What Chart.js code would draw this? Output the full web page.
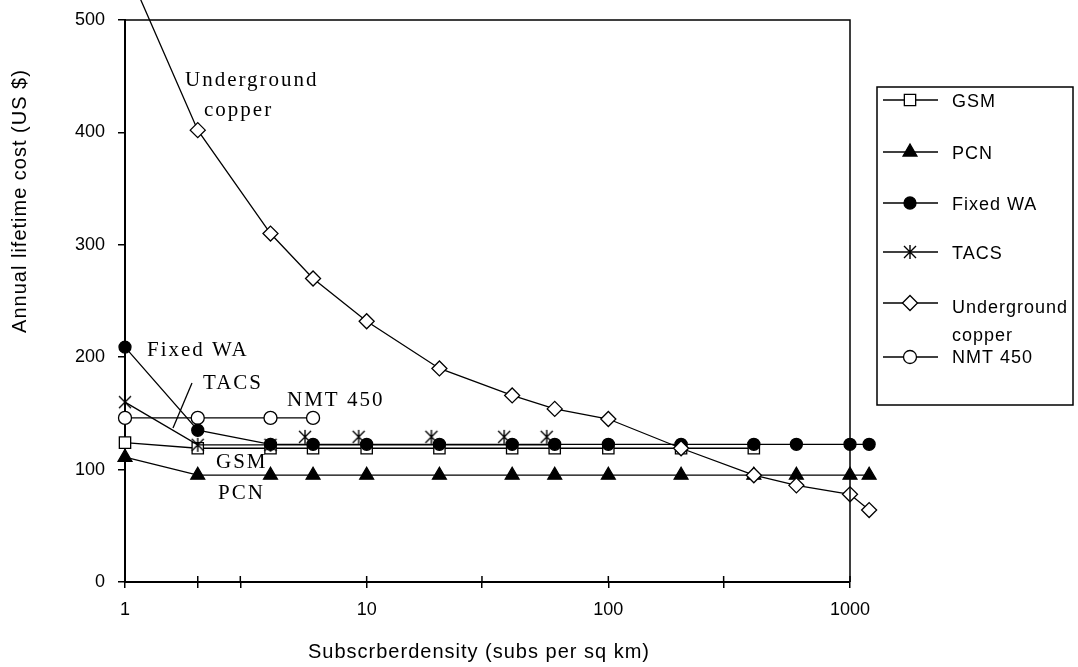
<!DOCTYPE html>
<html>
<head>
<meta charset="utf-8">
<title>Annual lifetime cost vs subscriber density</title>
<script src="https://cdn.jsdelivr.net/npm/chart.js@4.4.0/dist/chart.umd.min.js"></script>
<style>
  html, body { margin: 0; padding: 0; background: #fff; }
  #chart { display: block; }
</style>
</head>
<body>
<canvas id="chart" width="1078" height="667"></canvas>
<script>
// Subscriber density (subs per sq km) and costs
const density = [1, 2, 4, 6, 10, 20, 40, 60, 100, 200, 400, 600, 1000, 1200];
const gsmCost = [124, 119, 119, 119, 119, 119, 119, 119, 119, 119, 119];
const pcnCost = [111, 95, 95, 95, 95, 95, 95, 95, 95, 95, 95, 95, 95, 95];
const fixedWaCost = [209, 135, 122.5, 122.5, 122.5, 122.5, 122.5, 122.5, 122.5, 122.5, 122.5, 122.5, 122.5, 122.5];
const tacsCost = [160, 122, 122, 122, 122, 122, 122, 122];
const copperCost = [550, 402, 310, 270, 232, 190, 166, 154, 145, 119, 95, 86, 78, 64];
const nmtCost = [146, 146, 146, 146];

const xMin = 1, xMax = 1000;
const xTickValues = [1, 2, 3, 10, 30, 100, 300, 1000];
const xTickLabels = [1, 10, 100, 1000];
const yTickStep = 100;

const seriesNames = ["GSM", "PCN", "Fixed WA", "TACS", "Underground copper", "NMT 450"];

function toPoints(values) {
  return values.map((v, i) => ({ x: density[i], y: v }));
}

// asterisk marker (TACS); the shifted one sits up-left of its point like in the original
function makeStar(cx, cy) {
  const c = document.createElement('canvas');
  c.width = 40; c.height = 40;
  const g = c.getContext('2d');
  g.strokeStyle = '#000';
  g.lineWidth = 1.4;
  g.beginPath();
  g.moveTo(cx, cy - 7); g.lineTo(cx, cy + 7);
  g.moveTo(cx - 6, cy - 6); g.lineTo(cx + 6, cy + 6);
  g.moveTo(cx - 6, cy + 6); g.lineTo(cx + 6, cy - 6);
  g.stroke();
  return c;
}
const starCentered = makeStar(20, 20);
const starShifted = makeStar(12, 12);

function lineSet(label, values, style, radius, fill, order) {
  return {
    label: label,
    data: toPoints(values),
    borderColor: '#000',
    borderWidth: 1.3,
    pointStyle: style,
    pointRadius: radius,
    pointBackgroundColor: fill,
    pointBorderColor: '#000',
    pointBorderWidth: 1.3,
    tension: 0,
    clip: false,
    order: order
  };
}

const datasets = [
  lineSet(seriesNames[0], gsmCost, 'rect', 8, '#fff', 5),
  lineSet(seriesNames[1], pcnCost, 'triangle', 8, '#000', 4),
  lineSet(seriesNames[2], fixedWaCost, 'circle', 6, '#000', 1),
  lineSet(seriesNames[3], tacsCost, ctx => ctx.dataIndex >= 3 ? starShifted : starCentered, 7, '#000', 3),
  lineSet(seriesNames[4], copperCost, 'rectRot', 7.5, '#fff', 0),
  lineSet(seriesNames[5], nmtCost, 'circle', 6.5, '#fff', 2)
];

function textSpaced(ctx, txt, x, y, spacing) {
  if ('letterSpacing' in ctx) {
    ctx.letterSpacing = spacing;
    ctx.fillText(txt, x, y);
    ctx.letterSpacing = '0px';
  } else {
    ctx.fillText(txt, x, y);
  }
}

// Chart.js skips markers outside the chart area; the original shows the ones at 1200
const outsidePoints = {
  id: 'outsidePoints',
  afterDatasetsDraw(chart) {
    const a = chart.chartArea;
    chart.getSortedVisibleDatasetMetas().slice().reverse().forEach(meta => {
      meta.data.forEach(pt => {
        if (pt.x > a.right + 4) pt.draw(chart.ctx);
      });
    });
  }
};

// frame, inner tick halves, labels on the curves, axis titles and the boxed legend
const decor = {
  id: 'decor',
  afterDraw(chart) {
    const ctx = chart.ctx;
    const a = chart.chartArea;
    const xs = chart.scales.x;
    ctx.save();
    ctx.strokeStyle = '#000';
    ctx.fillStyle = '#000';

    ctx.lineWidth = 1.5;
    ctx.beginPath();
    ctx.moveTo(a.left, a.top);
    ctx.lineTo(a.right, a.top);
    ctx.lineTo(a.right, a.bottom);
    ctx.stroke();

    xs.ticks.forEach(t => {
      const px = xs.getPixelForValue(t.value);
      ctx.beginPath();
      ctx.moveTo(px, a.bottom - 6);
      ctx.lineTo(px, a.bottom);
      ctx.stroke();
    });

    // labels beside the curves
    ctx.font = '21px "Liberation Serif", "Times New Roman", serif';
    ctx.textAlign = 'left';
    ctx.textBaseline = 'middle';
    textSpaced(ctx, 'Underground', 185, 80, '2px');
    textSpaced(ctx, 'copper', 204, 110, '2px');
    textSpaced(ctx, 'Fixed WA', 147, 350, '2px');
    textSpaced(ctx, 'TACS', 203, 383, '2px');
    textSpaced(ctx, 'NMT 450', 287, 400, '2px');
    textSpaced(ctx, 'GSM', 216, 462, '2px');
    textSpaced(ctx, 'PCN', 218, 493, '2px');
    ctx.lineWidth = 1.3;
    ctx.beginPath();
    ctx.moveTo(192, 383);
    ctx.lineTo(173, 428);
    ctx.stroke();

    // axis titles
    ctx.font = '20px "Liberation Sans", Arial, sans-serif';
    ctx.textAlign = 'center';
    textSpaced(ctx, 'Subscrberdensity (subs per sq km)', 479, 652, '1px');
    ctx.save();
    ctx.translate(20, 201);
    ctx.rotate(-Math.PI / 2);
    textSpaced(ctx, 'Annual lifetime cost (US $)', 0, 0, '1px');
    ctx.restore();

    // legend
    ctx.lineWidth = 1.5;
    ctx.strokeRect(877, 87, 196, 318);
    const rowY = [100, 152, 203, 252, 303, 357];
    ctx.font = '18px "Liberation Sans", Arial, sans-serif';
    ctx.textAlign = 'left';
    chart.data.datasets.forEach((ds, i) => {
      const y = rowY[i];
      ctx.strokeStyle = '#000';
      ctx.lineWidth = 1.3;
      ctx.beginPath();
      ctx.moveTo(883, y);
      ctx.lineTo(938, y);
      ctx.stroke();
      const style = i === 3 ? starCentered : ds.pointStyle;
      ctx.fillStyle = ds.pointBackgroundColor;
      Chart.helpers.drawPoint(ctx, { pointStyle: style, radius: ds.pointRadius, rotation: 0, borderWidth: 1.3 }, 910, y);
      ctx.fillStyle = '#000';
      if (i === 4) {
        textSpaced(ctx, 'Underground', 952, 308, '1px');
        textSpaced(ctx, 'copper', 952, 336, '1px');
      } else {
        textSpaced(ctx, ds.label, 952, y + (i === 5 ? 1 : 2), '1px');
      }
    });
    ctx.restore();
  }
};

const tickFont = { family: '"Liberation Sans", Arial, sans-serif', size: 18 };

new Chart(document.getElementById('chart'), {
  type: 'line',
  data: { datasets: datasets },
  options: {
    responsive: false,
    animation: false,
    layout: { padding: { top: 20, right: 228, left: 0, bottom: 0 } },
    plugins: { legend: { display: false }, tooltip: { enabled: false } },
    scales: {
      x: {
        type: 'logarithmic',
        bounds: 'data',
        // range set here (not as min/max options) so the 1200 point past the edge is still drawn
        afterDataLimits: s => { s.min = xMin; s.max = xMax; },
        afterBuildTicks: s => { s.ticks = xTickValues.map(v => ({ value: v })); s.min = xMin; s.max = xMax; },
        afterFit: s => { s.height = 85; },
        ticks: {
          callback: v => xTickLabels.includes(v) ? String(v) : '',
          autoSkip: false,
          maxRotation: 0,
          color: '#000',
          font: tickFont,
          padding: 11
        },
        grid: { drawOnChartArea: false, tickLength: 6, color: '#000', lineWidth: 1.5 },
        border: { color: '#000', width: 2 }
      },
      y: {
        min: 0,
        max: 500,
        afterFit: s => { s.width = 125; s.paddingTop = 0; s.paddingBottom = 0; },
        ticks: { stepSize: yTickStep, color: '#000', font: tickFont, padding: 13 },
        grid: { drawOnChartArea: false, tickLength: 7, color: '#000', lineWidth: 1.5 },
        border: { color: '#000', width: 2 }
      }
    }
  },
  plugins: [outsidePoints, decor]
});
</script>
</body>
</html>
